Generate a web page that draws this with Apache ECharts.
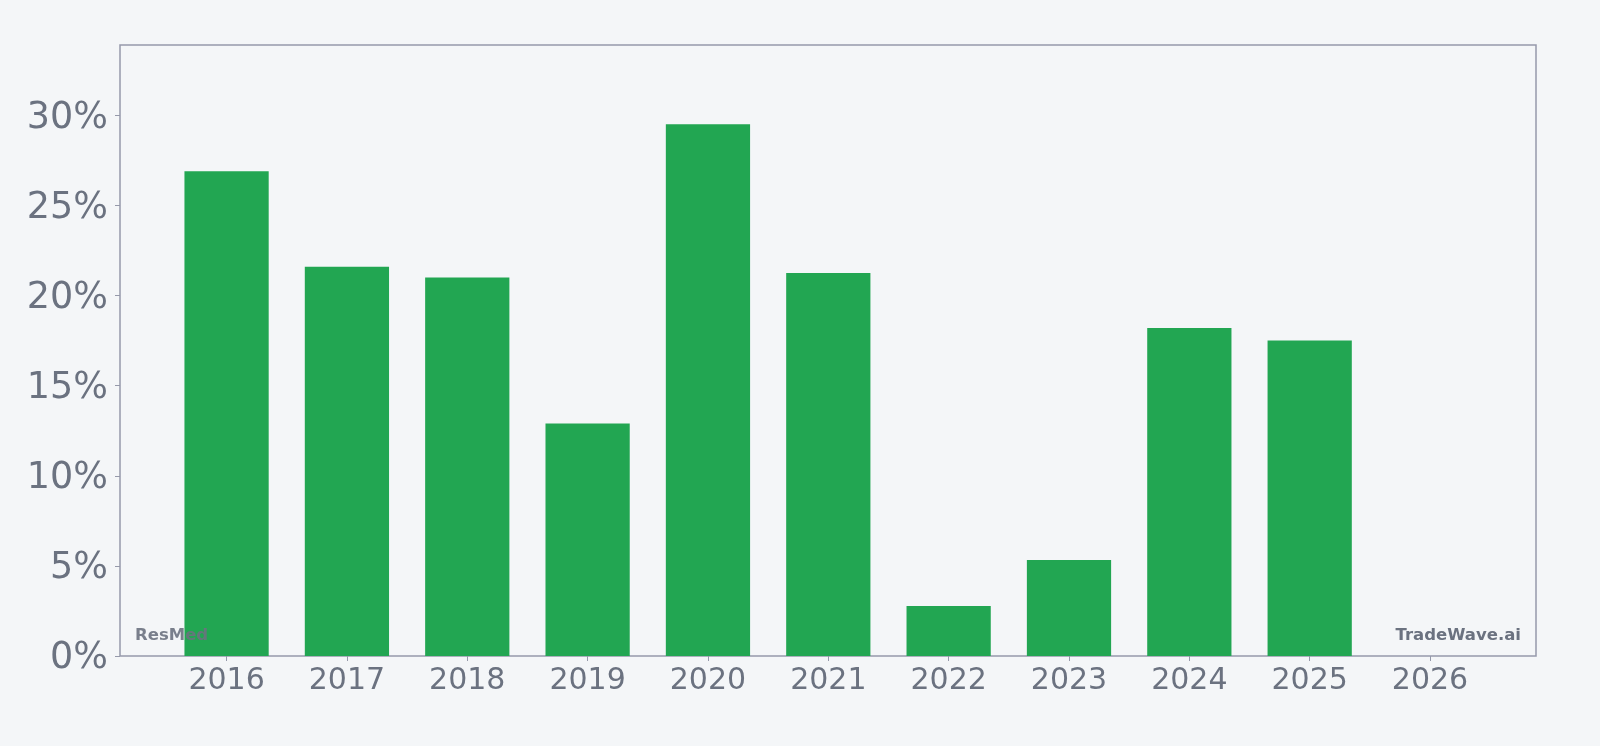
<!DOCTYPE html>
<html>
<head>
    <meta charset="utf-8">
    <title>ResMed</title>
    <script src="https://cdn.jsdelivr.net/npm/echarts@6/dist/echarts.min.js"></script>
    <style>
        html, body { margin: 0; padding: 0; background: #f4f6f8; }
    </style>
</head>
<body>
    <div id="main" style="width: 1600px;height:746px;"></div>
    <script type="text/javascript">
        // data
        var years = ['2016', '2017', '2018', '2019', '2020', '2021', '2022', '2023', '2024', '2025', '2026'];
        var growth = [26.9, 21.6, 21.0, 12.9, 29.5, 21.25, 2.77, 5.33, 18.2, 17.5, null];
        var yTicks = [0, 5, 10, 15, 20, 25, 30];
        var yMax = 33.9;

        var grey = '#6b7280';
        var frame = '#9599aa';
        var font = 'DejaVu Sans';

        var myChart = echarts.init(document.getElementById('main'));

        var option = {
            backgroundColor: '#f4f6f8',
            animation: false,
            grid: [
                // outer frame + y axis
                { left: 120, right: 64, top: 45, bottom: 90, show: true, borderColor: frame, borderWidth: 1.5, backgroundColor: 'transparent' },
                // bars, narrower so the categories sit inside the frame
                { left: 166.4, right: 109.8, top: 45, bottom: 90 }
            ],
            xAxis: [
                { gridIndex: 0, type: 'value', show: false, min: 0, max: 1 },
                {
                    gridIndex: 1,
                    type: 'category',
                    data: years,
                    axisLine: { show: false },
                    axisTick: { show: true, alignWithLabel: true, length: 5, lineStyle: { color: frame, width: 1 } },
                    axisLabel: { color: grey, fontSize: 30, fontFamily: font, margin: 10 }
                }
            ],
            yAxis: [
                {
                    gridIndex: 0,
                    type: 'value',
                    min: 0,
                    max: yMax,
                    axisLine: { show: false },
                    axisTick: { show: true, length: 5, customValues: yTicks, lineStyle: { color: frame, width: 1 } },
                    axisLabel: {
                        color: grey, fontSize: 36.5, fontFamily: font, margin: 12,
                        // small line box hung from the tick: nudges digits down onto the tick
                        verticalAlign: 'top', lineHeight: 6,
                        customValues: yTicks,
                        formatter: '{value}%'
                    },
                    splitLine: { show: false }
                },
                { gridIndex: 1, type: 'value', min: 0, max: yMax, show: false }
            ],
            series: [{
                type: 'bar',
                xAxisIndex: 1,
                yAxisIndex: 1,
                data: growth,
                barWidth: '70%',
                itemStyle: { color: '#22a652' }
            }],
            graphic: [
                {
                    type: 'text', z: 10, x: 135, y: 636,
                    style: { text: 'ResMed', fill: grey, opacity: 0.9, font: 'bold 16.5px "DejaVu Sans"', verticalAlign: 'middle' }
                },
                {
                    type: 'text', z: 10, x: 1521, y: 636,
                    style: { text: 'TradeWave.ai', fill: grey, font: 'bold 16.5px "DejaVu Sans"', align: 'right', verticalAlign: 'middle' }
                }
            ]
        };

        myChart.setOption(option);
    </script>
</body>
</html>
